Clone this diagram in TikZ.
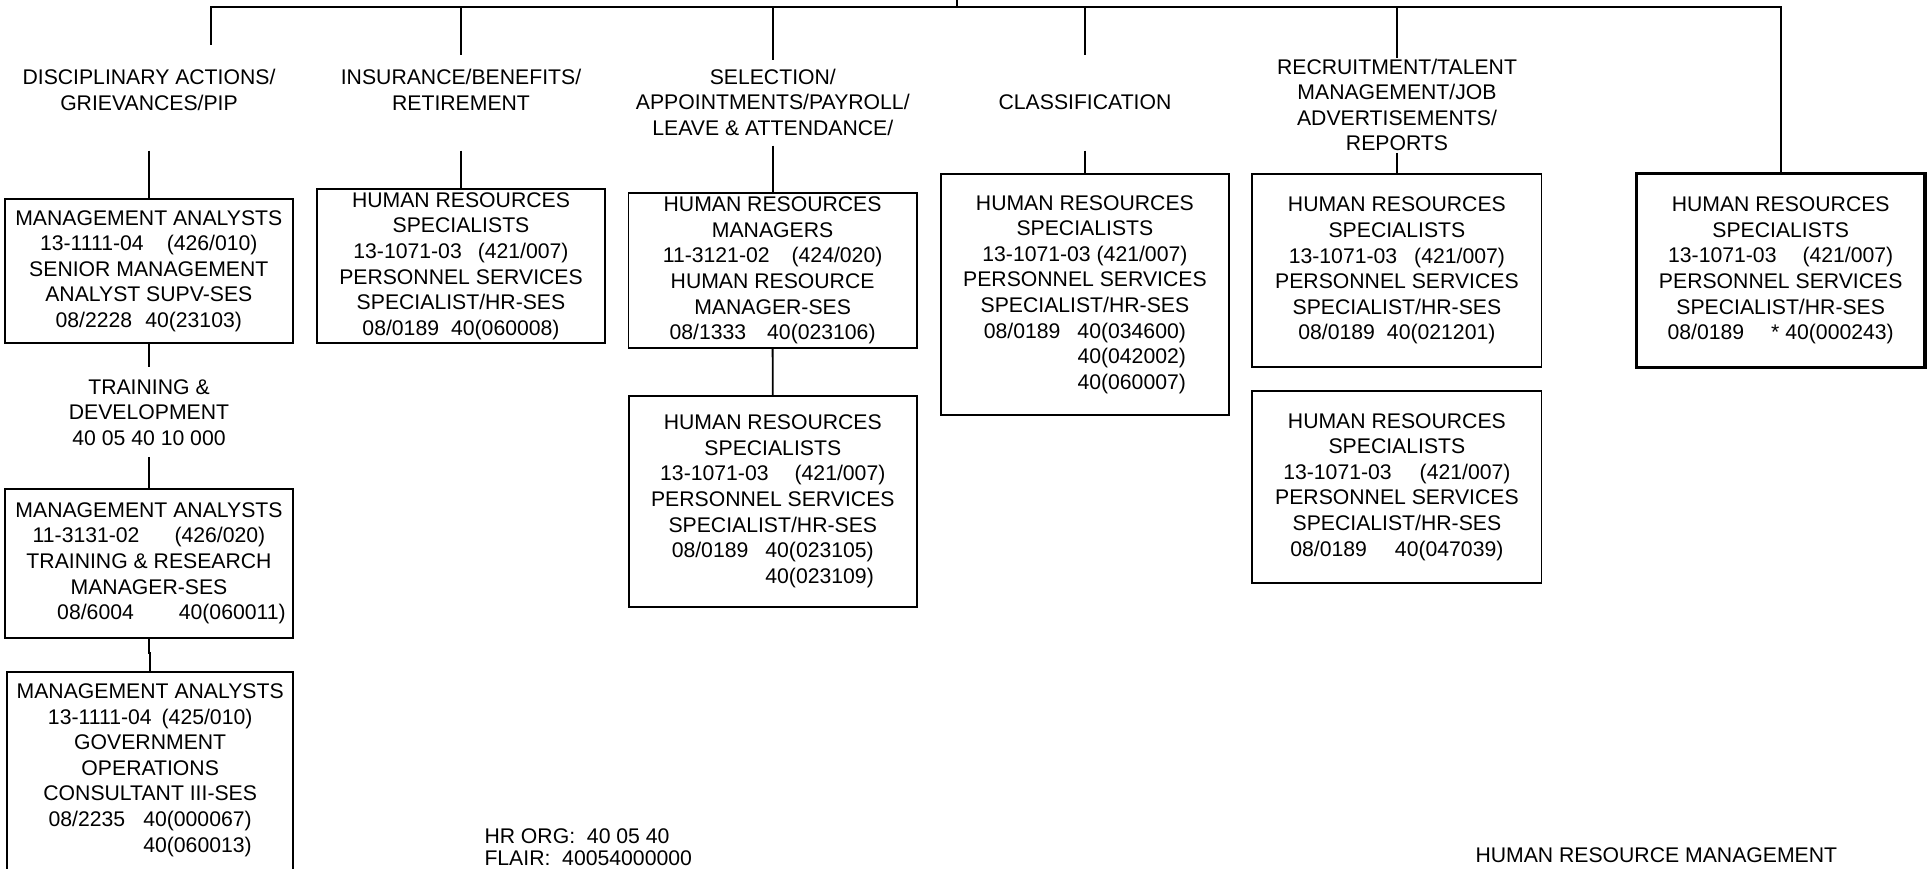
\documentclass[tikz,border=0pt]{standalone}
\usepackage{fontspec}
\setmainfont{Liberation Sans}
\begin{document}
\begin{tikzpicture}[x=1pt,y=-1pt,
  every node/.style={font=\fontsize{21.2}{25.6}\selectfont, inner sep=0pt, outer sep=0pt, align=center},
  heading/.style={},
  post/.style={draw, line width=1.8pt},
  lead/.style={draw, line width=3.4pt},
  wire/.style={line width=1.8pt, line join=miter},
]
\useasboundingbox (0,0) rectangle (1927,869);
\fill[white] (0,0) rectangle (1927,869);
\clip (0,0) rectangle (1927,869);

% ---- section headings ----
\node[heading] (dis) at (149,90) {DISCIPLINARY ACTIONS/\\GRIEVANCES/PIP};
\node[heading] (ins) at (461,90) {INSURANCE/BENEFITS/\\RETIREMENT};
\node[heading] (sel) at (772.8,102.2) {SELECTION/\\APPOINTMENTS/PAYROLL/\\LEAVE \& ATTENDANCE/};
\node[heading] (cls) at (1085,102.3) {CLASSIFICATION};
\node[heading] (rec) at (1397,105) {RECRUITMENT/TALENT\\MANAGEMENT/JOB\\ADVERTISEMENTS/\\REPORTS};
\node[heading] (trn) at (149,412.5) {TRAINING \&\\DEVELOPMENT\\40 05 40 10 000};

% ---- position boxes ----
\node[post, minimum width=287.8pt, minimum height=143.4pt] (ma1) at (148.8,271)
  {MANAGEMENT ANALYSTS\\13-1111-04\hspace{23pt}(426/010)\\SENIOR MANAGEMENT\\ANALYST SUPV-SES\\08/2228\hspace{13pt}40(23103)};
\node[post, minimum width=287.8pt, minimum height=153.4pt] (hrs2) at (461,266)
  {HUMAN RESOURCES\\SPECIALISTS\\13-1071-03\hspace{16pt}(421/007)\\PERSONNEL SERVICES\\SPECIALIST/HR-SES\\08/0189\hspace{12pt}40(060008)};
\node[post, minimum width=288.3pt, minimum height=154.4pt] (hrm3) at (772.6,270.5)
  {HUMAN RESOURCES\\MANAGERS\\11-3121-02\hspace{22pt}(424/020)\\HUMAN RESOURCE\\MANAGER-SES\\08/1333\hspace{21pt}40(023106)};
\node[post, minimum width=287.9pt, minimum height=211pt] (hrs4) at (772.8,501.2)
  {HUMAN RESOURCES\\SPECIALISTS\\13-1071-03\hspace{26pt}(421/007)\\PERSONNEL SERVICES\\SPECIALIST/HR-SES\\08/0189\hspace{17pt}40(023105)\\\phantom{08/0189}\hspace{17pt}40(023109)};
\node[post, minimum width=288.3pt, minimum height=241pt] (hrs5) at (1084.9,294.5)
  {HUMAN RESOURCES\\SPECIALISTS\\13-1071-03 (421/007)\\PERSONNEL SERVICES\\SPECIALIST/HR-SES\\08/0189\hspace{17pt}40(034600)\\\phantom{08/0189}\hspace{17pt}40(042002)\\\phantom{08/0189}\hspace{17pt}40(060007)};
\node[post, minimum width=289.2pt, minimum height=193.3pt] (hrs6) at (1396.9,270.7)
  {HUMAN RESOURCES\\SPECIALISTS\\13-1071-03\hspace{17pt}(421/007)\\PERSONNEL SERVICES\\SPECIALIST/HR-SES\\08/0189\hspace{12pt}40(021201)};
\node[lead, minimum width=288.3pt, minimum height=194.4pt] (hrs7) at (1780.7,270.5)
  {HUMAN RESOURCES\\SPECIALISTS\\13-1071-03\hspace{26pt}(421/007)\\PERSONNEL SERVICES\\SPECIALIST/HR-SES\\08/0189\hspace{27pt}* 40(000243)};
\node[post, minimum width=289.2pt, minimum height=191.7pt] (hrs8) at (1396.9,486.9)
  {HUMAN RESOURCES\\SPECIALISTS\\13-1071-03\hspace{28pt}(421/007)\\PERSONNEL SERVICES\\SPECIALIST/HR-SES\\08/0189\hspace{28pt}40(047039)};
\node[post, minimum width=288.1pt, minimum height=148.7pt] (ma9) at (149,563.3)
  {MANAGEMENT ANALYSTS\\11-3131-02\hspace{35pt}(426/020)\\TRAINING \& RESEARCH\\MANAGER-SES\\\hspace*{45pt}08/6004\hspace{45pt}40(060011)};
\node[minimum width=285.7pt, minimum height=196.6pt] (ma10) at (150.2,770)
  {MANAGEMENT ANALYSTS\\13-1111-04\hspace{10pt}(425/010)\\GOVERNMENT\\OPERATIONS\\CONSULTANT III-SES\\08/2235\hspace{18pt}40(000067)\\\phantom{08/2235}\hspace{18pt}40(060013)};
% the last box runs on past the lower edge of the sheet
\draw[wire] ([yshift=-14pt]ma10.south west) -- (ma10.north west) -- (ma10.north east) -- ([yshift=-14pt]ma10.south east);

% ---- top bar and drops ----
\coordinate (apex) at (956.7,-6);
\coordinate (barL) at (211,6.7);
\coordinate (barR) at (1780.7,6.7);
\coordinate (dropA) at (211,45);
\coordinate (dropB) at (461,55);
\coordinate (dropC) at (772.8,60);
\coordinate (dropD) at (1085,55);
\coordinate (dropE) at (1396.9,58);
\draw[wire] (dropA) -- (barL) -- (barR) -- (hrs7.north);
\draw[wire] (apex) -- (apex |- barL);
\draw[wire] (dropB |- barL) -- (dropB);
\draw[wire] (dropC |- barL) -- (dropC);
\draw[wire] (dropD |- barL) -- (dropD);
\draw[wire] (dropE |- barL) -- (dropE);

% ---- heading-to-box links ----
\coordinate (disB) at (148.8,150.7);
\coordinate (insB) at (461,150.7);
\coordinate (selB) at (772.6,145.7);
\coordinate (clsB) at (1084.9,150.7);
\coordinate (recB) at (1396.9,153);
\coordinate (trnT) at (148.8,366.7);
\coordinate (trnB) at (149,457.3);
\draw[wire] (disB) -- (ma1.north);
\draw[wire] (insB) -- (hrs2.north);
\draw[wire] (selB) -- (hrm3.north);
\draw[wire] (clsB) -- (hrs5.north);
\draw[wire] (recB) -- (hrs6.north);
\draw[wire] (ma1.south) -- (trnT);
\draw[wire] (trnB) -- (ma9.north);
\draw[wire] (hrm3.south) -- (hrs4.north);
\draw[wire] (ma9.south) -- ++(0,15.6) -| (ma10.north);

% ---- footer ----
\node[anchor=base west] (org) at (484.5,843.4) {HR ORG:\ \ 40 05 40};
\node[anchor=base west] (flair) at (484.5,865.8) {FLAIR:\ \ 40054000000};
\node[anchor=base west] (dept) at (1475.5,862.6) {HUMAN RESOURCE MANAGEMENT};
\end{tikzpicture}
\end{document}
